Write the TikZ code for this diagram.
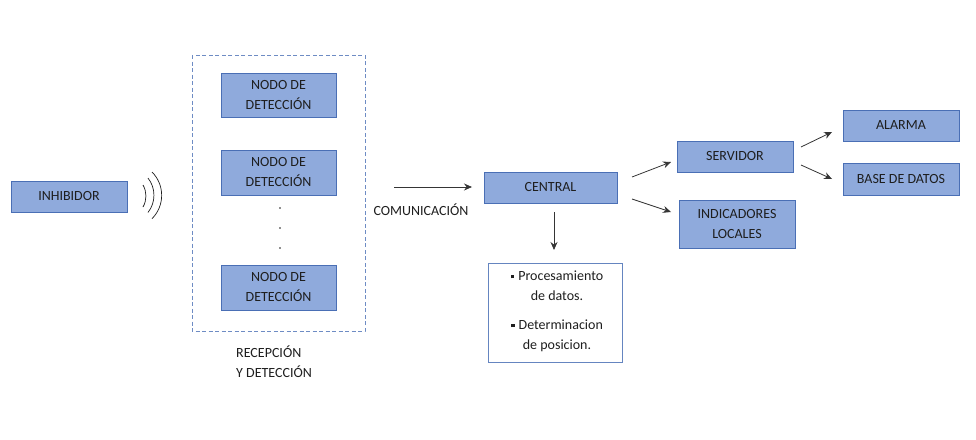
\documentclass[tikz,border=0pt]{standalone}
\usepackage{fontspec}
\setmainfont{Carlito}
\usetikzlibrary{arrows.meta}
\definecolor{bfill}{HTML}{8FAADC}
\definecolor{bdraw}{HTML}{4A6FB5}
\definecolor{txt}{HTML}{1E1E1E}
\newcommand{\sqb}{\raisebox{2.5pt}{\rule{3.5pt}{3.5pt}}\hspace{4pt}}
\tikzset{
  box/.style={draw=bdraw, fill=bfill, line width=0.8pt, inner sep=0pt, align=center, text=txt, font=\fontsize{14}{20}\selectfont},
  arr/.style={draw=txt!90, line width=0.8pt, -{Stealth[length=8pt,width=7pt]}},
  lbl/.style={text=txt, font=\fontsize{14}{20}\selectfont, inner sep=0pt}
}
\begin{document}
\begin{tikzpicture}[x=1pt,y=-1pt]
\useasboundingbox (0,0) rectangle (976,439);
% dashed group
\draw[bdraw!80, dash pattern=on 4pt off 2.5pt, line width=0.8pt] (192,55) rectangle (365,331);
\node[box, minimum width=116pt, minimum height=31pt] (inh) at (69,196.5) {INHIBIDOR};
\node[box, minimum width=115pt, minimum height=44pt] (n1) at (278.5,95) {NODO DE\\DETECCIÓN};
\node[box, minimum width=115pt, minimum height=45pt] (n2) at (278.5,172.5) {NODO DE\\DETECCIÓN};
\node[box, minimum width=115pt, minimum height=45pt] (n3) at (278.5,287.5) {NODO DE\\DETECCIÓN};
\fill[txt] (280,208) circle (0.9pt) (280,228) circle (0.9pt) (280,248) circle (0.9pt);
% waves
\draw[txt, line width=0.7pt] (143,185) arc[start angle=30, end angle=-30, radius=22pt];
\draw[txt, line width=0.7pt] (148,178) arc[start angle=38, end angle=-38, radius=28pt];
\draw[txt, line width=0.7pt] (152,172) arc[start angle=45, end angle=-45, radius=33pt];
\node[lbl, align=left, anchor=north west] (rec) at (236,346) {RECEPCIÓN\\Y DETECCIÓN};
% central
\coordinate (c0) at (394,187);
\coordinate (c1) at (472,187);
\node[box, minimum width=133pt, minimum height=31pt] (cen) at (550.5,187.5) {CENTRAL};
\draw[arr] (c0) -- (c1);
\node[lbl] (com) at (421,210) {COMUNICACIÓN};
\node[draw=bdraw!85, fill=white, line width=0.8pt, minimum width=134pt, minimum height=99pt, inner sep=0pt] (proc) at (555,312.5) {};
\node[lbl, align=center] (p1) at (557,286) {\sqb Procesamiento\\de datos.};
\node[lbl, align=center] (p2) at (557,336) {\sqb Determinacion\\de posicion.};
\coordinate (d0) at (554,212);
\coordinate (d1) at (554,250);
\draw[arr] (d0) -- (d1);
\node[box, minimum width=116pt, minimum height=31pt] (srv) at (735,156.5) {SERVIDOR};
\node[box, minimum width=116pt, minimum height=48pt] (ind) at (737,224) {INDICADORES\\LOCALES};
\draw[arr] (632,177) -- (671,162);
\draw[arr] (632,199) -- (671,212);
\node[box, minimum width=116pt, minimum height=31pt] (ala) at (901,125.5) {ALARMA};
\node[box, minimum width=116pt, minimum height=32pt] (bd) at (901,179) {BASE DE DATOS};
\draw[arr] (801,147) -- (832,132);
\draw[arr] (801,165) -- (832,179);
\end{tikzpicture}
\end{document}
